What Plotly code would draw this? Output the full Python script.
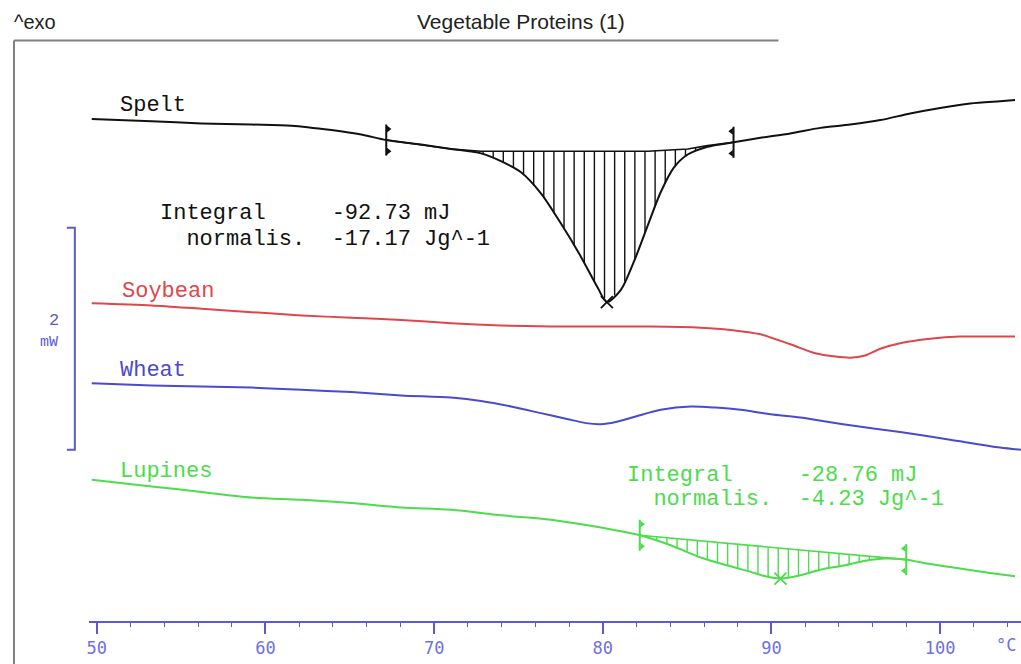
import numpy as np
import plotly.graph_objects as go

# ---------------- data ----------------
# temperature in degC, heat flow in mW (arbitrary offsets per curve)
spelt_T = [49.70, 53.25, 56.21, 59.17, 61.54, 63.91, 65.68, 67.16, 69.23, 71.01, 72.78, 73.96,
           75.15, 76.33, 77.51, 78.70, 79.70, 80.24, 81.07, 81.83, 82.66, 83.43, 84.20, 85.03,
           86.21, 87.75, 89.35, 91.12, 92.90, 94.67, 96.45, 98.22, 100.00, 101.78, 103.55, 104.44]
spelt_mW = [4.91, 4.89, 4.87, 4.86, 4.85, 4.81, 4.77, 4.72, 4.68, 4.64, 4.60, 4.53,
            4.43, 4.24, 3.97, 3.67, 3.39, 3.26, 3.37, 3.62, 3.95, 4.25, 4.47, 4.59,
            4.66, 4.70, 4.74, 4.78, 4.83, 4.86, 4.90, 4.96, 5.01, 5.05, 5.07, 5.08]
spelt_base_T = [67.16, 69.23, 71.01, 72.78, 82.66, 85.03, 86.21, 87.75]
spelt_base_mW = [4.72, 4.68, 4.64, 4.62, 4.62, 4.64, 4.67, 4.70]
spelt_limits = [67.16, 87.75]

soy_T = [49.70, 53.25, 56.21, 59.17, 62.13, 65.09, 68.05, 71.01, 73.96, 76.92, 79.88, 82.84,
         85.80, 87.57, 89.35, 91.12, 92.60, 93.79, 94.67, 95.56, 96.45, 97.63, 99.41, 101.18,
         102.96, 104.44]
soy_mW = [3.25, 3.23, 3.20, 3.17, 3.14, 3.12, 3.10, 3.07, 3.05, 3.04, 3.04, 3.04,
          3.03, 3.01, 2.97, 2.88, 2.80, 2.77, 2.76, 2.78, 2.84, 2.89, 2.93, 2.95,
          2.95, 2.95]

wheat_T = [49.70, 53.25, 56.21, 59.17, 62.13, 65.09, 68.05, 71.01, 72.78, 74.56, 76.33, 77.81,
           78.99, 79.88, 80.77, 81.95, 83.43, 85.21, 86.69, 88.17, 89.94, 91.72, 94.67, 97.63,
           100.59, 103.55, 104.79]
wheat_mW = [2.53, 2.51, 2.50, 2.49, 2.47, 2.45, 2.42, 2.40, 2.37, 2.32, 2.26, 2.21,
            2.17, 2.16, 2.18, 2.23, 2.29, 2.32, 2.31, 2.29, 2.25, 2.22, 2.15, 2.09,
            2.02, 1.95, 1.93]

lup_T = [49.70, 53.25, 56.21, 59.17, 62.13, 65.09, 68.05, 71.01, 73.96, 76.92, 79.88, 82.19,
         84.02, 85.80, 87.57, 88.76, 89.64, 90.53, 91.72, 92.90, 94.38, 95.56, 96.75, 97.99,
         99.41, 101.18, 102.96, 104.44]
lup_mW = [1.66, 1.60, 1.55, 1.50, 1.48, 1.45, 1.41, 1.39, 1.34, 1.30, 1.23, 1.16,
          1.07, 0.96, 0.88, 0.83, 0.79, 0.77, 0.80, 0.85, 0.89, 0.93, 0.95, 0.94,
          0.90, 0.86, 0.82, 0.79]
lup_base_T = [82.19, 97.99]
lup_base_mW = [1.16, 0.94]
lup_limits = [82.19, 97.99]

names = ["Spelt", "Soybean", "Wheat", "Lupines"]
integrals = {"Spelt": ["Integral", "-92.73 mJ", "normalis.", "-17.17 Jg^-1"],
             "Lupines": ["Integral", "-28.76 mJ", "normalis.", "-4.23 Jg^-1"]}
x_ticks = [50, 60, 70, 80, 90, 100]
scale_bar_mW = 2

# ---------------- styling ----------------
W, H = 1021, 664
BLACK = "#111111"
RED = "#e0454a"
BLUE = "#4a4ad0"
GREEN = "#4cdc4c"
AXBLUE = "#5a5ad8"
MONO = "Liberation Mono, Courier New, monospace"
SANS = "Liberation Sans, Arial, sans-serif"

def P(xpx, ypx):
    return xpx / W, 1 - ypx / H

fig = go.Figure()

def add_curve(T, v, color):
    fig.add_trace(go.Scatter(x=T, y=v, mode="lines",
                             line=dict(color=color, width=2, shape="spline", smoothing=0.8),
                             hoverinfo="skip", showlegend=False))

def add_hatch(T, v, bT, bv, color, start, stop, step):
    xs, ys = [], []
    for t in np.arange(start, stop, step):
        lo = np.interp(t, T, v)
        hi = np.interp(t, bT, bv)
        if hi > lo + 0.01:
            xs += [t, t, None]
            ys += [lo, hi, None]
    fig.add_trace(go.Scatter(x=xs, y=ys, mode="lines", line=dict(color=color, width=1.4),
                             hoverinfo="skip", showlegend=False))
    fig.add_trace(go.Scatter(x=bT, y=bv, mode="lines", line=dict(color=color, width=1.6),
                             hoverinfo="skip", showlegend=False))

def add_limits(T, v, limits, color):
    for i, t in enumerate(limits):
        y0 = float(np.interp(t, T, v))
        fig.add_trace(go.Scatter(x=[t, t], y=[y0 - 0.14, y0 + 0.14], mode="lines",
                                 line=dict(color=color, width=2), hoverinfo="skip", showlegend=False))
        d = 0.13 if i == 0 else -0.13
        sym = "triangle-right" if i == 0 else "triangle-left"
        fig.add_trace(go.Scatter(x=[t + d, t + d], y=[y0 - 0.10, y0 + 0.10], mode="markers",
                                 marker=dict(symbol=sym, size=6, color=color),
                                 hoverinfo="skip", showlegend=False))

def add_min(T, v, color):
    i = int(np.argmin(v))
    fig.add_trace(go.Scatter(x=[T[i]], y=[v[i]], mode="markers",
                             marker=dict(symbol="x-thin", size=12, line=dict(color=color, width=1.8)),
                             hoverinfo="skip", showlegend=False))

# Spelt
add_hatch(spelt_T, spelt_mW, spelt_base_T, spelt_base_mW, BLACK, 72.3, 87.0, 0.6)
add_curve(spelt_T, spelt_mW, BLACK)
add_limits(spelt_T, spelt_mW, spelt_limits, BLACK)
add_min(spelt_T, spelt_mW, BLACK)
# Soybean, Wheat
add_curve(soy_T, soy_mW, RED)
add_curve(wheat_T, wheat_mW, BLUE)
# Lupines
add_hatch(lup_T, lup_mW, lup_base_T, lup_base_mW, GREEN, 82.6, 97.8, 0.6)
add_curve(lup_T, lup_mW, GREEN)
add_limits(lup_T, lup_mW, lup_limits, GREEN)
add_min(lup_T, lup_mW, GREEN)

# ---------------- annotations ----------------
ann = []
def text(xpx, ypx, s, color, size, family=MONO, xanchor="left"):
    x, y = P(xpx, ypx)
    ann.append(dict(x=x, y=y, xref="paper", yref="paper", text=s, showarrow=False,
                    xanchor=xanchor, yanchor="middle", font=dict(color=color, size=size, family=family)))

text(116, 106, names[0], BLACK, 22)
text(118, 292, names[1], RED, 22)
text(116, 371, names[2], BLUE, 22)
text(116, 471, names[3], GREEN, 22)

NB = "\u00a0"
s = integrals["Spelt"]
text(156, 213, s[0] + NB * 5 + s[1], BLACK, 22)
text(156, 239, NB * 2 + s[2] + NB * 2 + s[3], BLACK, 22)
s = integrals["Lupines"]
text(624, 475, s[0] + NB * 5 + s[1], GREEN, 22)
text(624, 499, NB * 2 + s[2] + NB * 2 + s[3], GREEN, 22)

text(10, 22, "^exo", "#222222", 20, family=SANS)
text(520, 22, "Vegetable Proteins (1)", "#222222", 21, family=SANS, xanchor="center")
text(52, 320, str(scale_bar_mW), AXBLUE, 17, xanchor="center")
text(47, 342, "mW", AXBLUE, 15, xanchor="center")
text(994, 645, "°C", "#7070e0", 17, family="DejaVu Sans Mono, monospace")

# ---------------- shapes (frame + scale bar) ----------------
shapes = []
x0, ytop = P(12, 40.5)
x1, _ = P(778, 40.5)
shapes.append(dict(type="line", xref="paper", yref="paper", x0=x0, x1=x1, y0=ytop, y1=ytop,
                   line=dict(color="#808080", width=2)))
shapes.append(dict(type="line", xref="paper", yref="paper", x0=x0, x1=x0, y0=0, y1=ytop,
                   line=dict(color="#808080", width=2)))
sb_lo = 1.93
sb_hi = sb_lo + scale_bar_mW
bx, _ = P(73, 0)
bl, _ = P(65, 0)
shapes.append(dict(type="path", xref="paper", yref="y",
                   path=f"M {bl} {sb_hi} L {bx} {sb_hi} L {bx} {sb_lo} L {bl} {sb_lo}",
                   line=dict(color=AXBLUE, width=2)))

# ---------------- axes ----------------
x_lo = 50 + (87 - 95) / 16.9
x_hi = 50 + (W - 95) / 16.9
fig.update_layout(
    width=W, height=H, margin=dict(l=0, r=0, t=0, b=0),
    paper_bgcolor="white", plot_bgcolor="white",
    annotations=ann, shapes=shapes, showlegend=False,
    xaxis=dict(domain=[87 / W, 1], range=[x_lo, x_hi], anchor="free", position=(H - 622) / H,
               showline=True, linecolor=AXBLUE, linewidth=1.5, showgrid=False, zeroline=False,
               ticks="outside", ticklen=11, tickwidth=1.5, tickcolor=AXBLUE,
               tickvals=x_ticks, ticktext=[str(t) for t in x_ticks],
               tickfont=dict(family="DejaVu Sans Mono, monospace", size=17, color="#7070e0"),
               minor=dict(dtick=2, tick0=50, ticks="outside", ticklen=4, tickwidth=1.2, tickcolor=AXBLUE),
               fixedrange=True),
    yaxis=dict(domain=[0, 1], range=[0, H / 111], visible=False, fixedrange=True),
)
fig.write_html("out.html", config={"displayModeBar": False},
               post_script="document.body.style.margin='0';document.body.style.overflow='hidden';")
